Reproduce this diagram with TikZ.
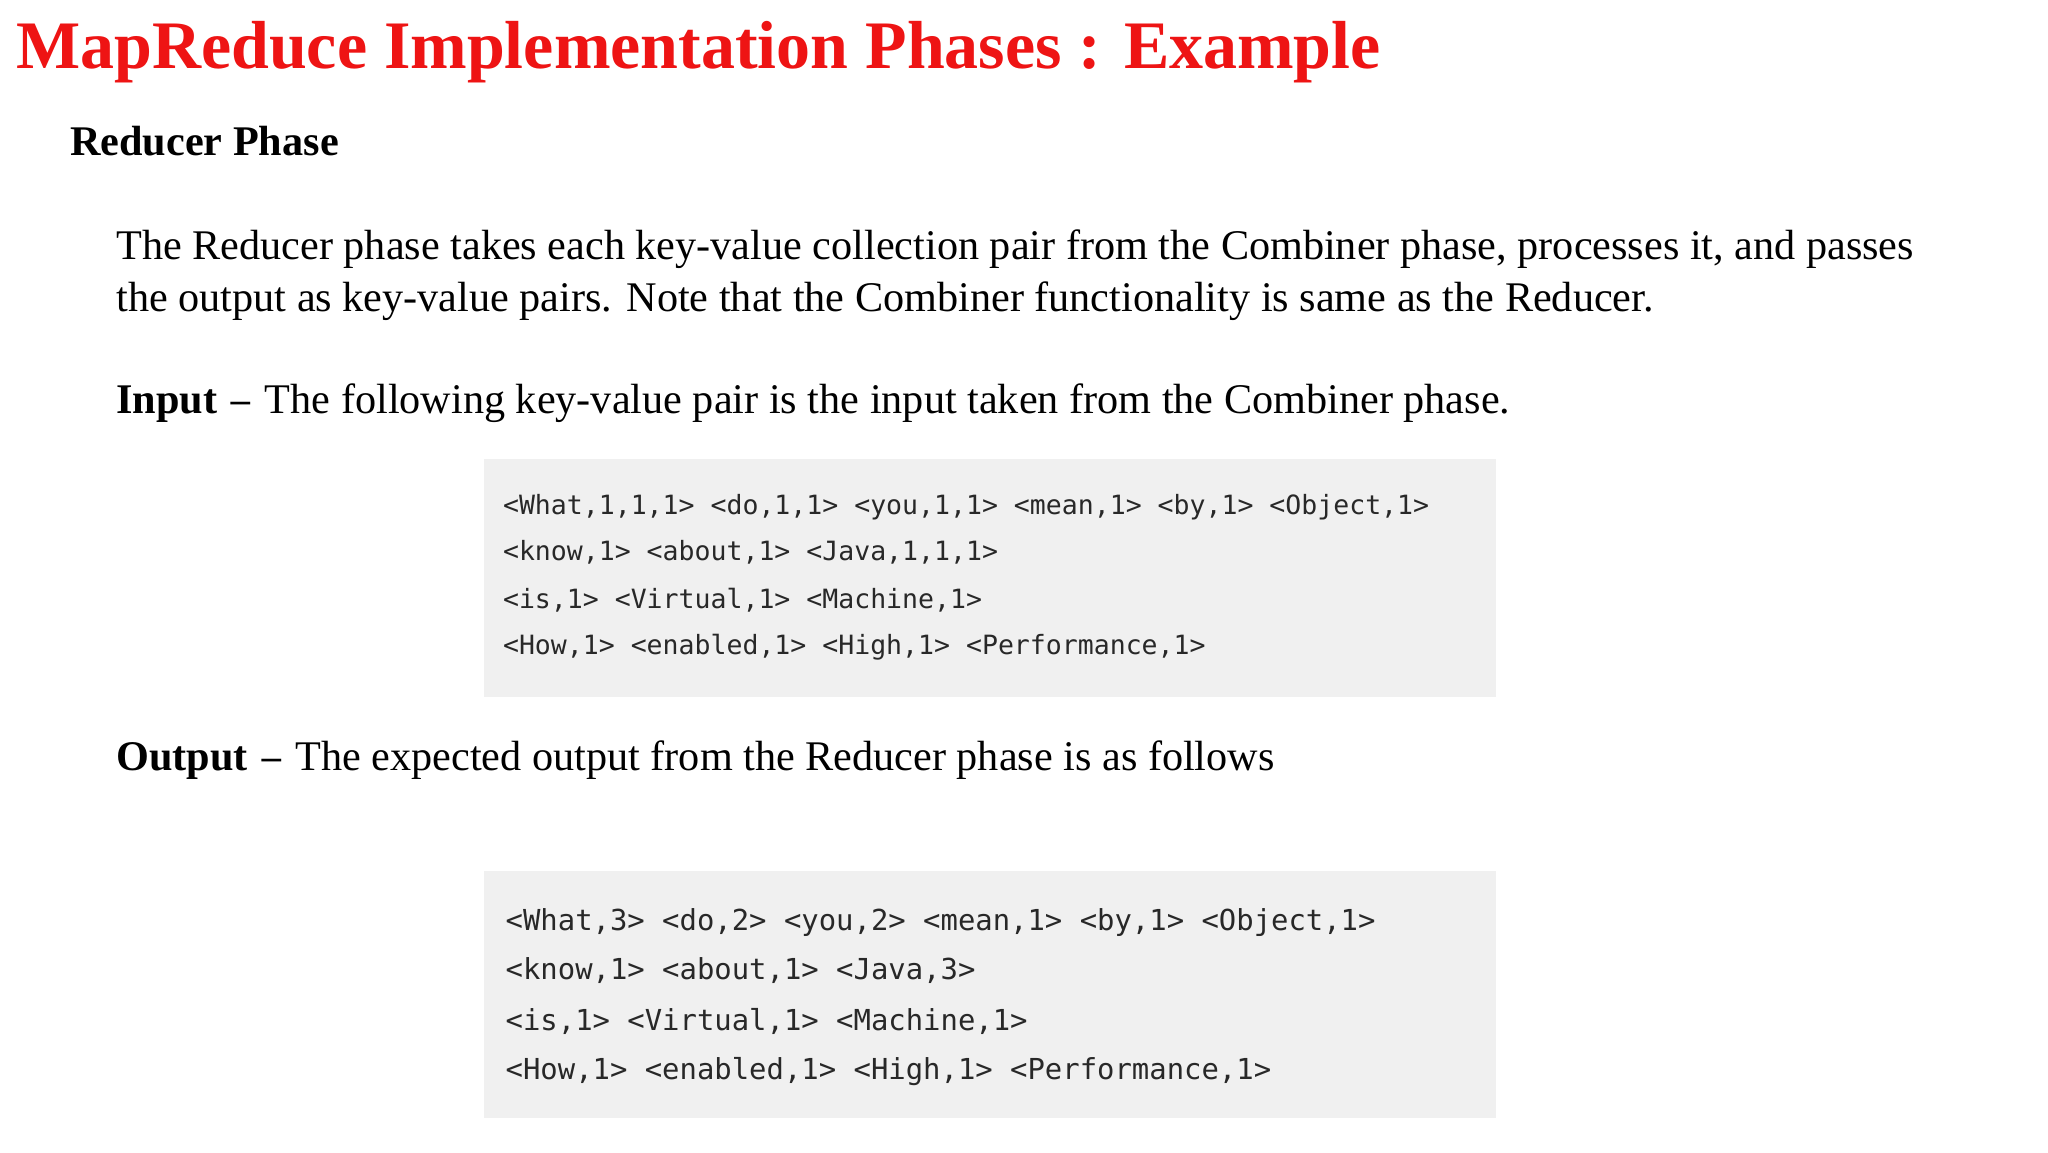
\documentclass[tikz,border=0pt]{standalone}
\usepackage{fontspec}
\setmainfont{Liberation Serif}
\setmonofont{DejaVu Sans Mono}
\definecolor{titlered}{RGB}{238,20,20}
\definecolor{codebg}{RGB}{240,240,240}
\definecolor{codefg}{RGB}{40,40,40}
\begin{document}
\begin{tikzpicture}[x=1pt,y=-1pt,
  txt/.style={anchor=base west,inner sep=0pt,font=\fontsize{32}{36}\selectfont},
  code/.style={anchor=base west,inner sep=0pt,text=codefg,font=\fontsize{20.1}{24}\ttfamily},
  codeb/.style={code,font=\fontsize{21.9}{26}\ttfamily},
  box/.style={fill=codebg,draw=none}]
\useasboundingbox (0,0) rectangle (1552,873);
\fill[white] (0,0) rectangle (1552,873);
\node[anchor=base west,inner sep=0pt,text=titlered,font=\fontsize{51.5}{56}\bfseries\selectfont] (title) at (12,52) {MapReduce Implementation Phases : Example};
\node[txt,font=\fontsize{32}{36}\bfseries\selectfont] (sub) at (53,118) {Reducer Phase};
\node[txt] (p1) at (88,197) {The Reducer phase takes each key-value collection pair from the Combiner phase, processes it, and passes};
\node[txt] (p2) at (88,236) {the output as key-value pairs. Note that the Combiner functionality is same as the Reducer.};
\node[txt] (inp) at (88,313) {\textbf{Input} {\fontspec{DejaVu Sans}\fontsize{24}{28}\selectfont −} The following key-value pair is the input taken from the Combiner phase.};
\fill[box] (367,348) rectangle (1134,528);
\node[code] (i1) at (381,390) {<What,1,1,1> <do,1,1> <you,1,1> <mean,1> <by,1> <Object,1>};
\node[code] (i2) at (381,425) {<know,1> <about,1> <Java,1,1,1>};
\node[code] (i3) at (381,461) {<is,1> <Virtual,1> <Machine,1>};
\node[code] (i4) at (381,496) {<How,1> <enabled,1> <High,1> <Performance,1>};
\node[txt] (out) at (88,584) {\textbf{Output} {\fontspec{DejaVu Sans}\fontsize{24}{28}\selectfont −} The expected output from the Reducer phase is as follows};
\fill[box] (367,660) rectangle (1134,847);
\node[codeb] (o1) at (383,705) {<What,3> <do,2> <you,2> <mean,1> <by,1> <Object,1>};
\node[codeb] (o2) at (383,742) {<know,1> <about,1> <Java,3>};
\node[codeb] (o3) at (383,781) {<is,1> <Virtual,1> <Machine,1>};
\node[codeb] (o4) at (383,818) {<How,1> <enabled,1> <High,1> <Performance,1>};
\end{tikzpicture}
\end{document}
